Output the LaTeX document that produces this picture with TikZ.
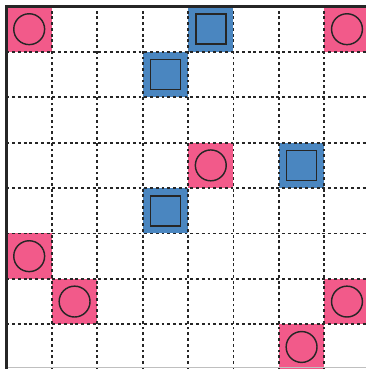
\documentclass[tikz,border=0pt]{standalone}
\usepackage{tikz}

\definecolor{rozsaszin}{RGB}{242,90,138}
\definecolor{kek}{RGB}{74,134,192}
\definecolor{keret}{RGB}{38,38,38}

\begin{document}
\begin{tikzpicture}[
		racs/.style={black!85,line width=1.05pt,dash pattern=on 1.8pt off 1.8pt},
		szel/.style={keret,line width=2.2pt},
		kor/.style={draw=keret,line width=0.9pt},
		negyzet/.style={draw=keret,line width=1pt,fill=kek}
	]
				% kivagas
				\useasboundingbox (-0.143,0.015) rectangle (7.918,8.143);
				\clip (-0.143,0.015) rectangle (7.918,8.143);
				
				% szinezett mezok
				\foreach \x/\y in {0/7, 7/7, 4/4, 0/2, 1/1, 7/1, 6/0}
					\fill[rozsaszin] (\x,\y) rectangle ++(1,1);
				\foreach \x/\y in {4/7, 3/6, 6/4, 3/3}
					\fill[kek] (\x,\y) rectangle ++(1,1);
				
				% racsvonalak
				\foreach \i in {1,...,7} {
					\draw[racs] (\i,0) -- (\i,8);
					\draw[racs] (0,\i) -- (8.2,\i);
				}
				\draw[gray!50,line width=0.6pt] (0,0.045) -- (8.2,0.045);
				
				% szelek
				\draw[szel] (0,-0.1) -- (0,8) -- (8.2,8);
				
				% korok
				\foreach \x/\y in {0/7, 7/7, 4/4, 0/2, 1/1, 7/1, 6/0}
					\draw[kor] (\x+0.5,\y+0.5) circle (0.34);
				
				% negyzetek
				\foreach \x/\y in {4/7, 3/6, 6/4, 3/3}
					\draw[negyzet] (\x+0.17,\y+0.17) rectangle ++(0.66,0.66);
				
			\end{tikzpicture}
\end{document}
